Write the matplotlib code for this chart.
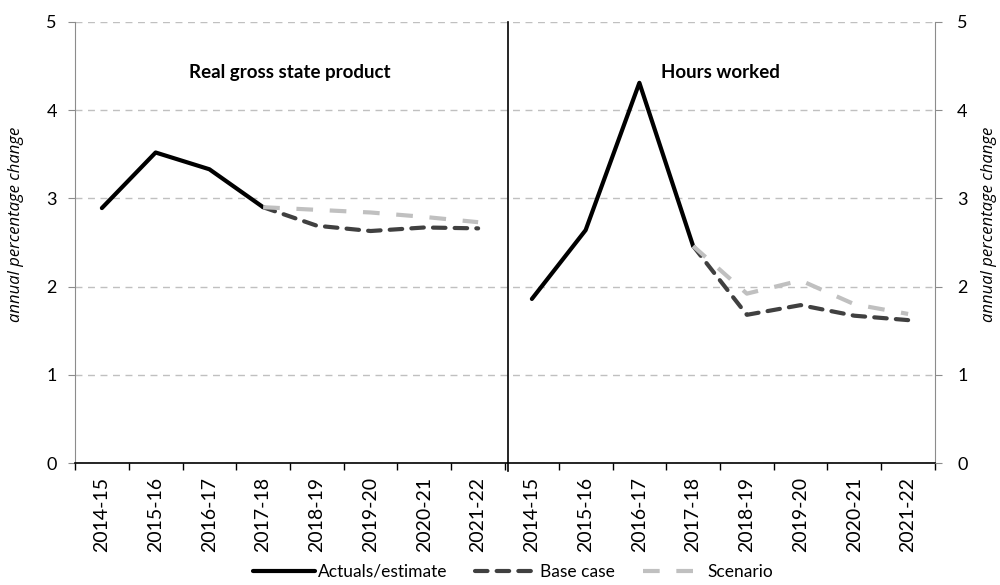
import matplotlib.pyplot as plt
import numpy as np

plt.rcParams["font.family"] = ["Lato", "DejaVu Sans"]

years = ["2014-15", "2015-16", "2016-17", "2017-18",
         "2018-19", "2019-20", "2020-21", "2021-22"]
panels = ["Real gross state product", "Hours worked"]

# actuals run to 2017-18, projections start from 2017-18
gsp_actual = [2.89, 3.52, 3.33, 2.90]
gsp_base = [2.90, 2.69, 2.63, 2.67, 2.66]
gsp_scen = [2.90, 2.87, 2.84, 2.79, 2.73]

hours_actual = [1.86, 2.64, 4.31, 2.46]
hours_base = [2.46, 1.68, 1.79, 1.67, 1.62]
hours_scen = [2.46, 1.92, 2.07, 1.80, 1.69]

grey = "#8c8c8c"
fig = plt.figure(figsize=(10, 5.85), dpi=100)
ax = fig.add_axes([0.075, 0.2085, 0.86, 0.754])

n = len(years)
for i, (act, base, scen) in enumerate([(gsp_actual, gsp_base, gsp_scen),
                                       (hours_actual, hours_base, hours_scen)]):
    x0 = i * n
    xa = np.arange(len(act)) + x0
    xp = np.arange(len(base)) + x0 + len(act) - 1
    ax.plot(xa, act, color="black", lw=3, solid_capstyle="round",
            label="Actuals/estimate" if i == 0 else None, zorder=4)
    ax.plot(xp, base, color="#404040", lw=3, dashes=(3, 2.2),
            dash_capstyle="round", label="Base case" if i == 0 else None, zorder=3)
    ax.plot(xp, scen, color="#c0c0c0", lw=3, dashes=(4, 4),
            label="Scenario" if i == 0 else None, zorder=5)
    ax.text(x0 + (n - 1) / 2, 4.43, panels[i], ha="center", va="center",
            fontsize=13.5, fontweight="bold")

ax.set_xlim(-0.5, 2 * n - 0.5)
ax.set_ylim(0, 5)
ax.set_xticks(np.arange(2 * n))
ax.set_xticklabels(years * 2, rotation=90, fontsize=14)
ax.set_xticks(np.arange(-0.5, 2 * n), minor=True)
ax.tick_params(axis="x", which="major", length=0, pad=10)
ax.tick_params(axis="x", which="minor", length=5, color="black", width=1)
ax.set_yticks(np.arange(0, 6, 1))
ax.tick_params(axis="y", length=5, color=grey, labelsize=13, pad=8)
ax.yaxis.grid(True, color="#c0c0c0", linestyle=(0, (5, 4)), lw=1)
ax.set_axisbelow(True)

# separator between the two panels
ax.plot([n - 0.45, n - 0.45], [-0.09, 5], color="black", lw=1.2, clip_on=False, zorder=6)

for side in ["left", "right"]:
    ax.spines[side].set_color(grey)
ax.spines["top"].set_visible(False)
ax.spines["bottom"].set_color("black")
ax.spines["bottom"].set_linewidth(1.2)
ylab = dict(fontsize=12, style="italic", family=["Open Sans", "DejaVu Sans"])
ax.set_ylabel("annual percentage change", **ylab)
ax.yaxis.set_label_coords(-0.059, 0.54)

ax2 = ax.twinx()
ax2.set_ylim(0, 5)
ax2.set_yticks(np.arange(0, 6, 1))
ax2.tick_params(axis="y", length=5, color=grey, labelsize=13, pad=11)
for s in ax2.spines.values():
    s.set_visible(False)
ax2.set_ylabel("annual percentage change", rotation=90, **ylab)
ax2.yaxis.set_label_coords(1.053, 0.54)

fig.legend(loc="lower center", bbox_to_anchor=(0.513, -0.018), ncol=3, frameon=False,
           fontsize=12.5, handlelength=3.6, columnspacing=1.6, handletextpad=0.15)

fig.savefig("out.png", dpi=100)
